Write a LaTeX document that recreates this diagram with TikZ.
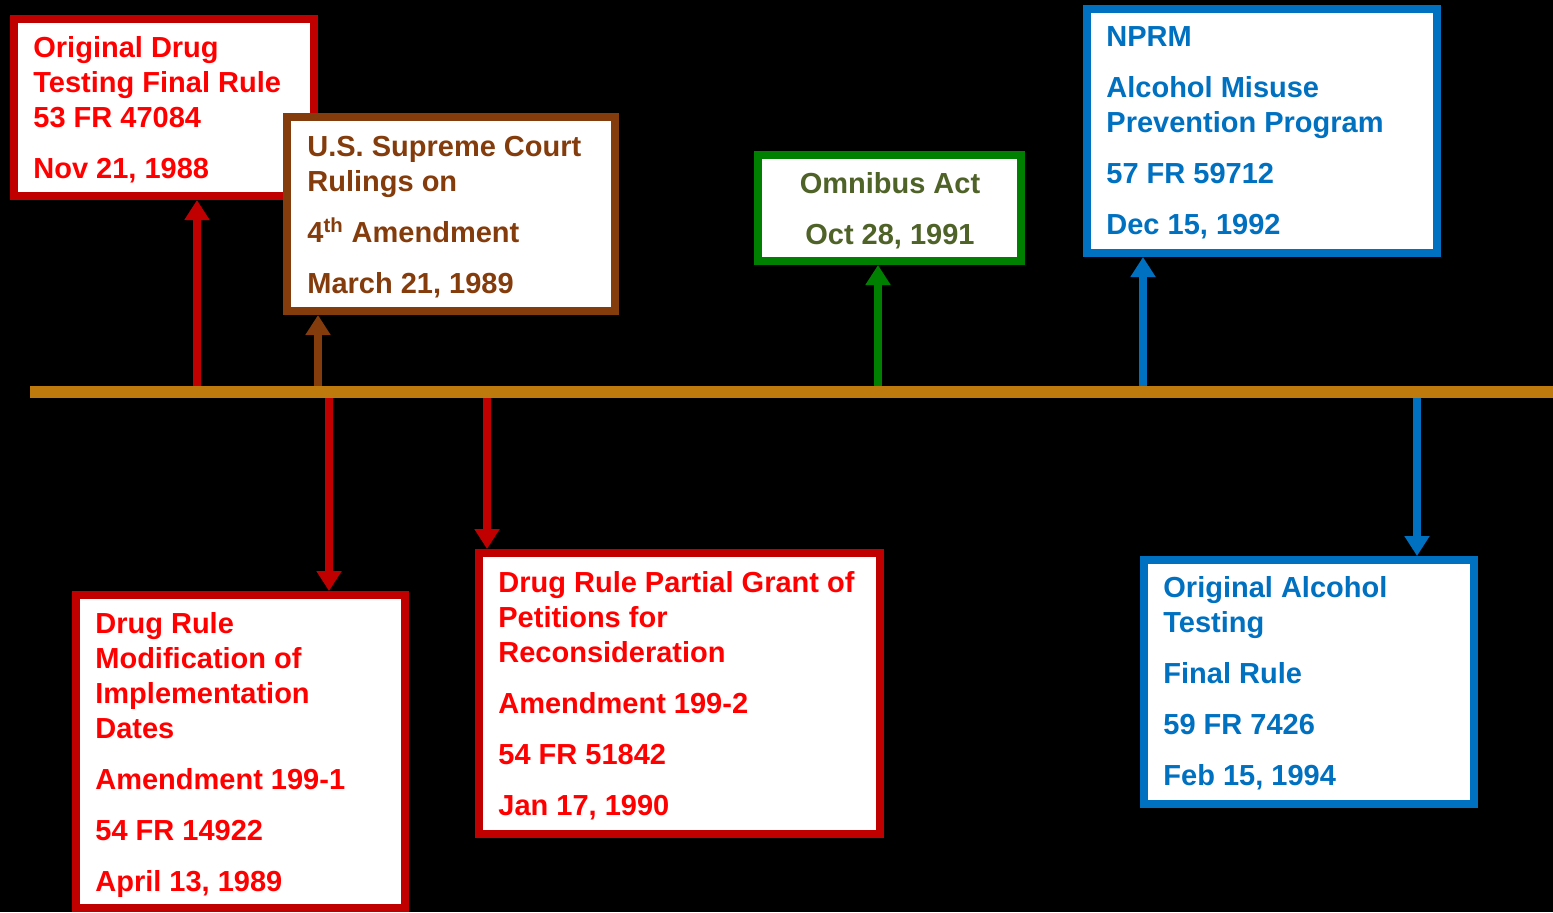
\documentclass[tikz,border=0pt]{standalone}
\usepackage{fontspec}
\setmainfont{Liberation Sans}
\usetikzlibrary{arrows.meta}
\definecolor{cred}{HTML}{C00000}
\definecolor{tred}{HTML}{FF0000}
\definecolor{brn}{HTML}{843C0C}
\definecolor{grn}{HTML}{008000}
\definecolor{tgrn}{HTML}{4F6228}
\definecolor{blu}{HTML}{0070C0}
\definecolor{barc}{HTML}{BF7A0E}
\tikzset{
  evbox/.style={draw=#1, fill=white, line width=4pt, rectangle, inner sep=0pt},
  txt/.style={anchor=base west, inner sep=0pt, text=#1,
    font=\fontsize{14.5}{17.5}\selectfont\bfseries},
  ctxt/.style={anchor=base, inner sep=0pt, text=#1,
    font=\fontsize{14.5}{17.5}\selectfont\bfseries},
  arr/.style={draw=#1, line width=3.6pt, -{Triangle[width=12pt,length=10pt]}},
  bar/.style={draw=barc, line width=6pt}
}
\newcommand{\gap}{\\[8pt]}
\begin{document}
\begin{tikzpicture}[x=0.5pt,y=-0.5pt]
\useasboundingbox (0,0) rectangle (1553,912);
\fill[black] (0,0) rectangle (1553,912);

% boxes
\node[evbox=cred, minimum width=150pt, minimum height=88.5pt] (b1) at (164,107.5) {};
\node[evbox=brn, minimum width=164pt, minimum height=97pt] (b2) at (451,214) {};
\node[evbox=grn, minimum width=131.5pt, minimum height=53pt] (b3) at (889.5,208) {};
\node[evbox=blu, minimum width=175pt, minimum height=122pt] (b4) at (1262,131) {};
\node[evbox=cred, minimum width=164.5pt, minimum height=156.5pt] (b5) at (240.5,751.5) {};
\node[evbox=cred, minimum width=200.5pt, minimum height=140.5pt] (b6) at (679.5,693.5) {};
\node[evbox=blu, minimum width=165pt, minimum height=122pt] (b7) at (1309,682) {};

% texts
\node[txt=tred] (t1) at (33,57) {\begin{tabular}[t]{@{}l@{}}Original Drug\\Testing Final Rule\\53 FR 47084\gap Nov 21, 1988\end{tabular}};
\node[txt=brn] (t2) at (307,156) {\begin{tabular}[t]{@{}l@{}}U.S. Supreme Court\\Rulings on\gap 4\textsuperscript{th} Amendment\gap March 21, 1989\end{tabular}};
\node[ctxt=tgrn] (t3) at (890,193) {\begin{tabular}[t]{@{}c@{}}Omnibus Act\gap Oct 28, 1991\end{tabular}};
\node[txt=blu] (t4) at (1106,46) {\begin{tabular}[t]{@{}l@{}}NPRM\gap Alcohol Misuse\\Prevention Program\gap 57 FR 59712\gap Dec 15, 1992\end{tabular}};
\node[txt=tred] (t5) at (95,633) {\begin{tabular}[t]{@{}l@{}}Drug Rule\\Modification of\\Implementation\\Dates\gap Amendment 199-1\gap 54 FR 14922\gap April 13, 1989\end{tabular}};
\node[txt=tred] (t6) at (498,592) {\begin{tabular}[t]{@{}l@{}}Drug Rule Partial Grant of\\Petitions for\\Reconsideration\gap Amendment 199-2\gap 54 FR 51842\gap Jan 17, 1990\end{tabular}};
\node[txt=blu] (t7) at (1163,597) {\begin{tabular}[t]{@{}l@{}}Original Alcohol\\Testing\gap Final Rule\gap 59 FR 7426\gap Feb 15, 1994\end{tabular}};

% timeline points
\coordinate (p1) at (197,392);
\coordinate (p2) at (318,392);
\coordinate (p3) at (878,392);
\coordinate (p4) at (1143,392);
\coordinate (p5) at (329,392);
\coordinate (p6) at (487,392);
\coordinate (p7) at (1417,392);
\coordinate (tl0) at (30,392);
\coordinate (tl1) at (1553,392);

% arrows
\draw[arr=cred] (p1) -- (p1 |- b1.south);
\draw[arr=brn] (p2) -- (p2 |- b2.south);
\draw[arr=grn] (p3) -- (p3 |- b3.south);
\draw[arr=blu] (p4) -- (p4 |- b4.south);
\draw[arr=cred] (p5) -- (p5 |- b5.north);
\draw[arr=cred] (p6) -- (p6 |- b6.north);
\draw[arr=blu] (p7) -- (p7 |- b7.north);

% timeline bar
\draw[bar] (tl0) -- (tl1);
\end{tikzpicture}
\end{document}
